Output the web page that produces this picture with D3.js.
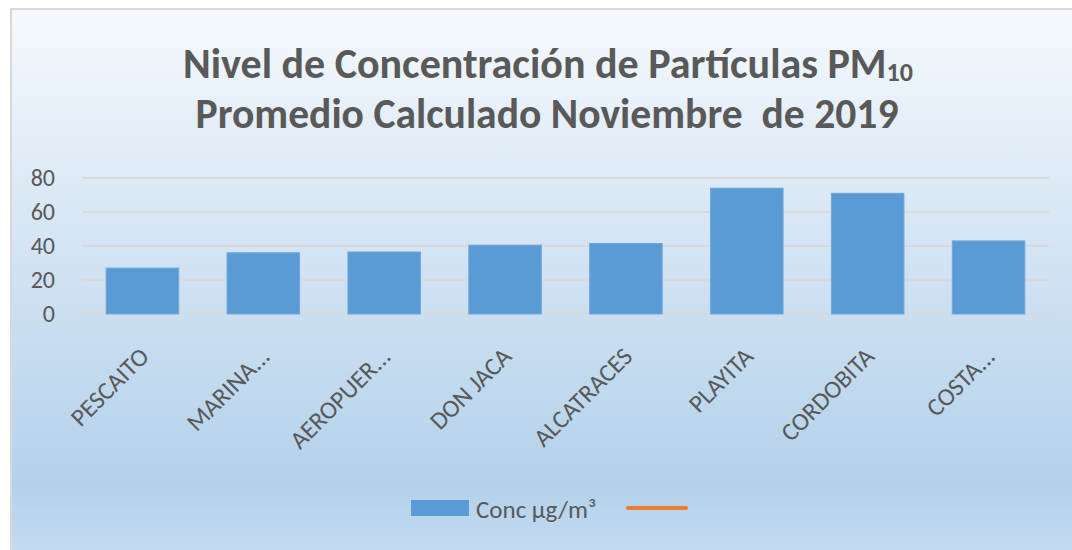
<!DOCTYPE html>
<html>
<meta charset="utf-8">
<style>
    body { margin: 0; background: #fff; }
    svg { display: block; font-family: Calibri, Carlito, "Open Sans", sans-serif; }
</style>
<body>
<svg width="1072" height="550"></svg>
<script src="https://d3js.org/d3.v7.min.js"></script>
<script>

    let stations = ["PESCAITO", "MARINA...", "AEROPUER...", "DON JACA", "ALCATRACES", "PLAYITA", "CORDOBITA", "COSTA..."];
    let conc = [27, 36, 36.5, 40.5, 41.5, 74, 71, 43];
    let yTicks = [0, 20, 40, 60, 80];
    let seriesNames = ["Conc µg/m³", ""];

    let svg = d3.select("svg"),
        margin = {top: 178, right: 23, bottom: 236, left: 82},
        width = +svg.attr("width") - margin.left - margin.right,
        height = +svg.attr("height") - margin.top - margin.bottom;

    // panel background
    let grad = svg.append("defs").append("linearGradient")
        .attr("id", "bg").attr("x1", 0).attr("y1", 0).attr("x2", 0).attr("y2", 1);
    grad.append("stop").attr("offset", "0%").attr("stop-color", "#f5f9fd");
    grad.append("stop").attr("offset", "45%").attr("stop-color", "#d2e3f3");
    grad.append("stop").attr("offset", "85%").attr("stop-color", "#b3d1eb");
    grad.append("stop").attr("offset", "100%").attr("stop-color", "#c8ddf1");

    svg.append("rect")
        .attr("x", 11).attr("y", 9)
        .attr("width", 1072).attr("height", 560)
        .attr("fill", "url(#bg)")
        .attr("stroke", "#d9d9d9")
        .attr("stroke-width", 2);

    let g = svg.append("g").attr("transform", "translate(" + margin.left + "," + margin.top + ")");

    let x = d3.scaleBand()
        .domain(stations)
        .range([0, width])
        .paddingInner(0.4)
        .paddingOuter(0.2);

    let y = d3.scaleLinear()
        .domain([0, 80])
        .range([height, 0]);

    // gridlines
    g.append("g")
        .selectAll("line")
        .data(yTicks)
        .enter().append("line")
        .attr("x1", 0).attr("x2", width)
        .attr("y1", function (d) { return y(d); })
        .attr("y2", function (d) { return y(d); })
        .attr("stroke", "#d9d9d9")
        .attr("stroke-width", 2);

    // y labels
    let yAxis = g.append("g")
        .call(d3.axisLeft(y).tickValues(yTicks).tickSize(0).tickPadding(27))
        .attr("font-family", null)
        .attr("font-size", 24);
    yAxis.select(".domain").remove();
    yAxis.selectAll("text")
        .attr("fill", "#595959");

    // bars
    g.append("g")
        .selectAll("rect")
        .data(conc)
        .enter().append("rect")
        .attr("x", function (d, i) { return x(stations[i]); })
        .attr("y", function (d) { return y(d); })
        .attr("width", x.bandwidth())
        .attr("height", function (d) { return height - y(d); })
        .attr("fill", "#5b9bd5")
        .attr("stroke", "#6fa8dc")
        .attr("stroke-width", 1);

    // x labels
    let xAxis = g.append("g")
        .attr("transform", "translate(0," + height + ")")
        .call(d3.axisBottom(x).tickSize(0).tickPadding(0))
        .attr("font-family", null)
        .attr("font-size", 25);
    xAxis.select(".domain").remove();
    xAxis.selectAll("text")
        .attr("fill", "#595959")
        .attr("text-anchor", "end")
        .attr("dy", 0)
        .attr("transform", "translate(8,44) rotate(-45)");

    // title
    let title = svg.append("g")
        .attr("font-weight", "bold")
        .attr("fill", "#595959")
        .attr("text-anchor", "middle");
    let t1 = title.append("text")
        .attr("x", 548).attr("y", 78)
        .attr("font-size", 42)
        .attr("textLength", 730)
        .attr("lengthAdjust", "spacingAndGlyphs");
    t1.append("tspan").text("Nivel de Concentración de Partículas PM");
    t1.append("tspan").attr("font-size", 26).attr("dy", 3).text("10");
    title.append("text")
        .attr("x", 547).attr("y", 128)
        .attr("font-size", 42)
        .attr("textLength", 703)
        .attr("lengthAdjust", "spacingAndGlyphs")
        .text("Promedio Calculado Noviembre  de 2019")
        .style("white-space", "pre");

    // legend
    let legend = svg.append("g").attr("transform", "translate(411,500)");
    legend.append("rect")
        .attr("width", 58).attr("height", 16)
        .attr("fill", "#5b9bd5");
    legend.append("text")
        .attr("x", 65).attr("y", 18)
        .attr("font-size", 25)
        .attr("fill", "#595959")
        .text(seriesNames[0]);
    legend.append("line")
        .attr("x1", 217).attr("x2", 275)
        .attr("y1", 8).attr("y2", 8)
        .attr("stroke", "#ed7d31")
        .attr("stroke-width", 4)
        .attr("stroke-linecap", "round");

</script>
</body>
</html>
